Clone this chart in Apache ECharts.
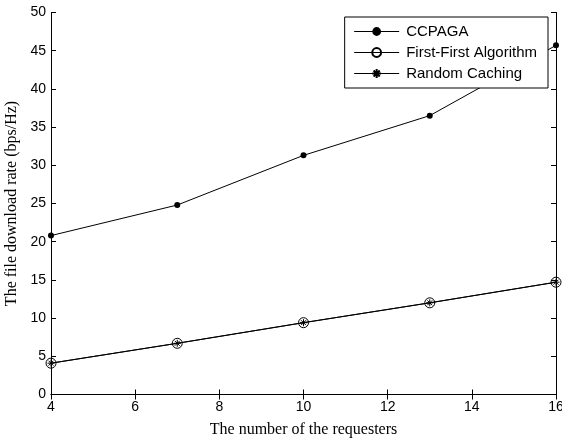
<!DOCTYPE html>
<html>
<head>
<meta charset="utf-8">
<script src="https://cdn.jsdelivr.net/npm/echarts@6/dist/echarts.min.js"></script>
<style>html,body{margin:0;padding:0;background:#fff}#c{width:562px;height:441px}</style>
</head>
<body>
<div id="c"></div>
<script>
var requesters = [4, 7, 10, 13, 16];
var ccpaga = [20.8, 24.8, 31.3, 36.5, 45.7];
var firstFirst = [4.1, 6.7, 9.4, 12.0, 14.7];
var randomCaching = [4.1, 6.7, 9.4, 12.0, 14.7];
var seriesNames = ['CCPAGA', 'First-First Algorithm', 'Random Caching'];
var xLabel = 'The number of the requesters';
var yLabel = 'The file download rate (bps/Hz)';

function pairs(ys) { return requesters.map(function (x, i) { return [x, ys[i]]; }); }

var chart = echarts.init(document.getElementById('c'));
var sans = 'Liberation Sans, Arial, sans-serif';
var serif = 'Liberation Serif, Times New Roman, serif';
var tickFont = { color: '#000', fontSize: 14, fontFamily: sans };
var axLine = { show: true, lineStyle: { color: '#000', width: 1 } };
var axTick = { show: true, inside: true, length: 5, lineStyle: { color: '#000' } };
var asterisk = 'path://M0,-1L0,1M-1,0L1,0M-0.7,-0.7L0.7,0.7M-0.7,0.7L0.7,-0.7';

chart.setOption({
  animation: false,
  backgroundColor: '#fff',
  grid: { left: 51, right: 6, top: 12.5, bottom: 46.5, containLabel: false, outerBoundsMode: 'none' },
  legend: {
    orient: 'vertical', right: 14, top: 17,
    backgroundColor: '#fff', borderColor: '#000', borderWidth: 1,
    padding: [7, 11, 7, 9], itemWidth: 45, itemHeight: 11, itemGap: 6,
    lineStyle: { width: 1 },
    textStyle: { color: '#000', fontSize: 15, fontFamily: sans, padding: [0, 0, 0, 2] },
    data: seriesNames
  },
  xAxis: [{
    type: 'value', min: 4, max: 16, interval: 2, position: 'bottom',
    axisLine: axLine, axisTick: axTick, splitLine: { show: false },
    axisLabel: Object.assign({ margin: 6 }, tickFont),
    name: xLabel, nameLocation: 'middle', nameGap: 27,
    nameTextStyle: { color: '#000', fontSize: 16, fontFamily: serif }
  }, {
    type: 'value', min: 4, max: 16, interval: 2, position: 'top',
    axisLine: axLine, axisTick: axTick, splitLine: { show: false }, axisLabel: { show: false }
  }],
  yAxis: [{
    type: 'value', min: 0, max: 50, interval: 5, position: 'left',
    axisLine: axLine, axisTick: axTick, splitLine: { show: false },
    axisLabel: Object.assign({ margin: 5 }, tickFont),
    name: yLabel, nameLocation: 'middle', nameGap: 31,
    nameTextStyle: { color: '#000', fontSize: 16, fontFamily: serif }
  }, {
    type: 'value', min: 0, max: 50, interval: 5, position: 'right',
    axisLine: axLine, axisTick: axTick, splitLine: { show: false }, axisLabel: { show: false }
  }],
  series: [{
    name: seriesNames[0], type: 'line', data: pairs(ccpaga),
    symbol: 'circle', symbolSize: 6,
    lineStyle: { color: '#000', width: 1 },
    itemStyle: { color: '#000' }
  }, {
    name: seriesNames[1], type: 'line', data: pairs(firstFirst),
    symbol: 'circle', symbolSize: 10,
    lineStyle: { color: '#000', width: 1 },
    itemStyle: { color: 'rgba(0,0,0,0)', borderColor: '#000', borderWidth: 1 }
  }, {
    name: seriesNames[2], type: 'line', data: pairs(randomCaching),
    symbol: asterisk, symbolSize: 7,
    lineStyle: { color: '#000', width: 1 },
    itemStyle: { color: 'rgba(0,0,0,0)', borderColor: '#000', borderWidth: 1 }
  }]
});
</script>
</body>
</html>
